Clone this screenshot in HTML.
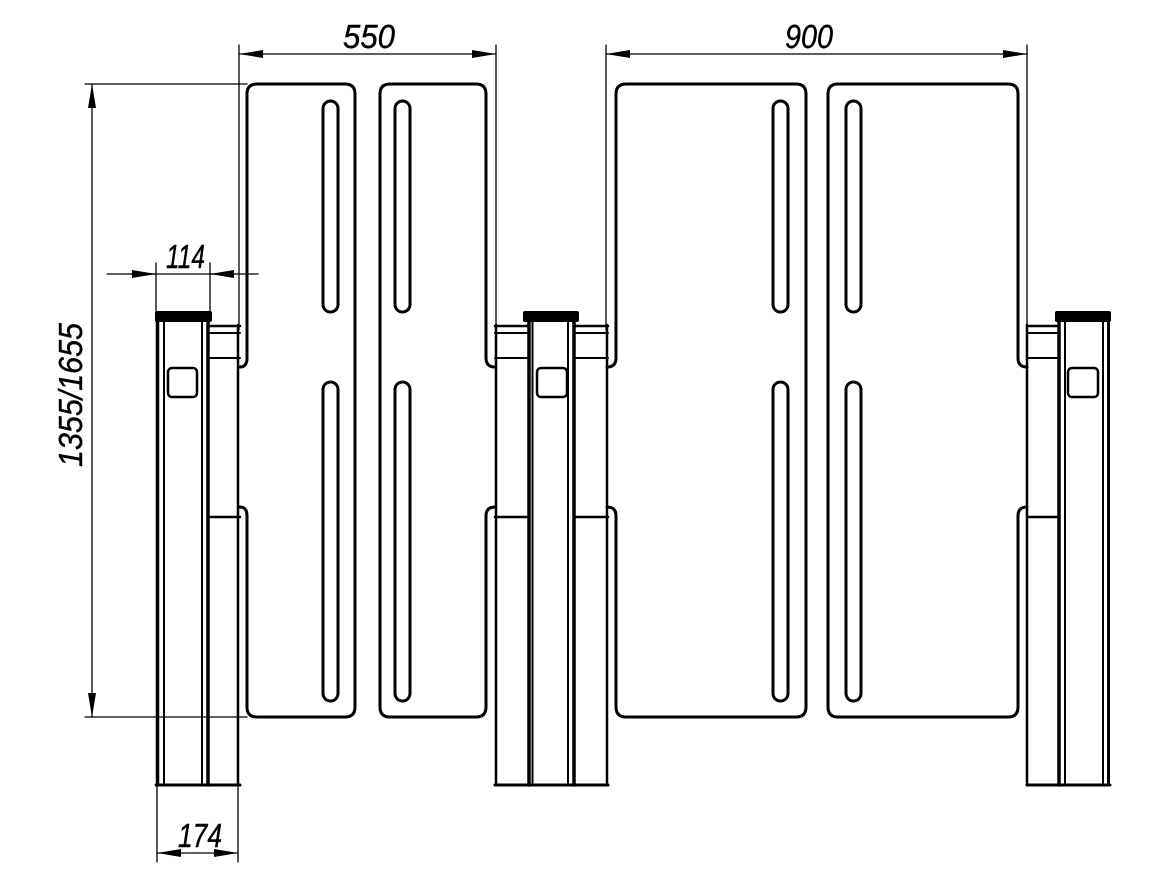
<!DOCTYPE html>
<html><head><meta charset="utf-8"><style>
html,body{margin:0;padding:0;background:#fff;}
svg{display:block;}
text{font-family:"Liberation Sans",sans-serif;font-style:italic;font-size:33px;fill:#000;stroke:#000;stroke-width:0.4;}
</style></head><body>
<svg width="1168" height="887" viewBox="0 0 1168 887" xmlns="http://www.w3.org/2000/svg">
<defs>
<marker id="a" viewBox="0 0 24 8" refX="24" refY="4" markerWidth="24" markerHeight="8" markerUnits="userSpaceOnUse" orient="auto"><path d="M0,0 L24,4 L0,8 Z" fill="#000"/></marker>
</defs>
<g fill="none" stroke="#000" stroke-linecap="round" stroke-linejoin="round">
<g stroke-width="1.3">
 <line x1="239" y1="45" x2="239" y2="330"/>
 <line x1="496" y1="45" x2="496" y2="330"/>
 <line x1="368" y1="54" x2="239" y2="54" marker-end="url(#a)"/>
 <line x1="368" y1="54" x2="496" y2="54" marker-end="url(#a)"/>
 <line x1="606" y1="45" x2="606" y2="330"/>
 <line x1="1027" y1="45" x2="1027" y2="330"/>
 <line x1="816" y1="54" x2="606" y2="54" marker-end="url(#a)"/>
 <line x1="816" y1="54" x2="1027" y2="54" marker-end="url(#a)"/>
 <line x1="85" y1="84" x2="247" y2="84"/>
 <line x1="85" y1="717" x2="247" y2="717"/>
 <line x1="92" y1="400" x2="92" y2="84" marker-end="url(#a)"/>
 <line x1="92" y1="400" x2="92" y2="717" marker-end="url(#a)"/>
 <line x1="156" y1="263" x2="156" y2="311"/>
 <line x1="210" y1="263" x2="210" y2="311"/>
 <line x1="107" y1="274" x2="258" y2="274"/>
 <line x1="130" y1="274" x2="156" y2="274" marker-end="url(#a)"/>
 <line x1="236" y1="274" x2="210" y2="274" marker-end="url(#a)"/>
 <line x1="157" y1="785" x2="157" y2="862"/>
 <line x1="238" y1="785" x2="238" y2="862"/>
 <line x1="197" y1="853" x2="157" y2="853" marker-end="url(#a)"/>
 <line x1="197" y1="853" x2="238" y2="853" marker-end="url(#a)"/>
</g>

<g stroke-width="3">
 <path d="M240,367 Q247,367 247,358 V94 Q247,84 257,84 H345 Q355,84 355,94 V707 Q355,717 345,717 H257 Q247,717 247,707 V516 Q247,507 240,507"/>
 <path d="M495,367 Q486,367 486,358 V94 Q486,84 476,84 H390 Q380,84 380,94 V707 Q380,717 390,717 H476 Q486,717 486,707 V516 Q486,507 495,507"/>
 <path d="M607,367 Q616,367 616,358 V94 Q616,84 626,84 H796 Q806,84 806,94 V707 Q806,717 796,717 H626 Q616,717 616,707 V516 Q616,507 607,507"/>
 <path d="M1027,367 Q1018,367 1018,358 V94 Q1018,84 1008,84 H838 Q828,84 828,94 V707 Q828,717 838,717 H1008 Q1018,717 1018,707 V516 Q1018,507 1027,507"/>
 <rect x="323" y="101" width="15" height="211" rx="7.5"/>
 <rect x="323" y="382" width="15" height="319" rx="7.5"/>
 <rect x="395" y="101" width="15" height="211" rx="7.5"/>
 <rect x="395" y="382" width="15" height="319" rx="7.5"/>
 <rect x="773" y="101" width="15" height="211" rx="7.5"/>
 <rect x="773" y="382" width="15" height="319" rx="7.5"/>
 <rect x="846" y="101" width="15" height="211" rx="7.5"/>
 <rect x="846" y="382" width="15" height="319" rx="7.5"/>
</g>

<g>
 <rect x="155" y="311" width="57" height="11" rx="2" fill="#000" stroke="none"/>
 <line x1="157.5" y1="322" x2="157.5" y2="785" stroke-width="3.5"/>
 <line x1="164" y1="322" x2="164" y2="785" stroke-width="2"/>
 <line x1="202" y1="322" x2="202" y2="785" stroke-width="2"/>
 <line x1="208" y1="322" x2="208" y2="785" stroke-width="3.5"/>
 <line x1="238" y1="325" x2="238" y2="785" stroke-width="2.5"/>
 <line x1="208" y1="326" x2="240" y2="326" stroke-width="2.5"/>
 <line x1="208" y1="333" x2="240" y2="333" stroke-width="2"/>
 <line x1="208" y1="358" x2="240" y2="358" stroke-width="2"/>
 <line x1="208" y1="517" x2="240" y2="517" stroke-width="2.5"/>
 <line x1="156" y1="785" x2="240" y2="785" stroke-width="3"/>
 <rect x="168" y="368" width="29" height="29" rx="4" stroke-width="2.5"/>
</g>
<g>
 <rect x="523" y="311" width="56" height="11" rx="2" fill="#000" stroke="none"/>
 <line x1="529" y1="322" x2="529" y2="785" stroke-width="3.5"/>
 <line x1="532.5" y1="322" x2="532.5" y2="785" stroke-width="2"/>
 <line x1="568" y1="322" x2="568" y2="785" stroke-width="2"/>
 <line x1="574" y1="322" x2="574" y2="785" stroke-width="3.5"/>
 <line x1="496" y1="325" x2="496" y2="785" stroke-width="2.5"/>
 <line x1="607" y1="325" x2="607" y2="785" stroke-width="2.5"/>
 <line x1="495" y1="326" x2="529" y2="326" stroke-width="2.5"/>
 <line x1="495" y1="333" x2="529" y2="333" stroke-width="2"/>
 <line x1="495" y1="358" x2="529" y2="358" stroke-width="2"/>
 <line x1="495" y1="517" x2="529" y2="517" stroke-width="2.5"/>
 <line x1="574" y1="326" x2="608" y2="326" stroke-width="2.5"/>
 <line x1="574" y1="333" x2="608" y2="333" stroke-width="2"/>
 <line x1="574" y1="358" x2="608" y2="358" stroke-width="2"/>
 <line x1="574" y1="517" x2="608" y2="517" stroke-width="2.5"/>
 <line x1="495" y1="785" x2="608" y2="785" stroke-width="3"/>
 <rect x="537" y="368" width="30" height="29" rx="4" stroke-width="2.5"/>
</g>
<g>
 <rect x="1055" y="311" width="56" height="11" rx="2" fill="#000" stroke="none"/>
 <line x1="1059" y1="322" x2="1059" y2="785" stroke-width="3.5"/>
 <line x1="1065" y1="322" x2="1065" y2="785" stroke-width="2"/>
 <line x1="1103" y1="322" x2="1103" y2="785" stroke-width="2"/>
 <line x1="1108.5" y1="322" x2="1108.5" y2="785" stroke-width="3"/>
 <line x1="1027" y1="325" x2="1027" y2="785" stroke-width="2.5"/>
 <line x1="1027" y1="326" x2="1059" y2="326" stroke-width="2.5"/>
 <line x1="1027" y1="333" x2="1059" y2="333" stroke-width="2"/>
 <line x1="1027" y1="358" x2="1059" y2="358" stroke-width="2"/>
 <line x1="1027" y1="517" x2="1059" y2="517" stroke-width="2.5"/>
 <line x1="1027" y1="785" x2="1110" y2="785" stroke-width="3"/>
 <rect x="1068" y="368" width="30" height="29" rx="4" stroke-width="2.5"/>
</g>
</g>

<text x="343" y="48" textLength="52" lengthAdjust="spacingAndGlyphs">550</text>
<text x="785" y="48" textLength="48" lengthAdjust="spacingAndGlyphs">900</text>
<text x="166" y="268" textLength="39" lengthAdjust="spacingAndGlyphs">114</text>
<text x="178" y="847" textLength="44" lengthAdjust="spacingAndGlyphs">174</text>
<text x="0" y="0" textLength="144" lengthAdjust="spacingAndGlyphs" transform="translate(82,467) rotate(-90)">1355/1655</text>
</svg>
</body></html>
